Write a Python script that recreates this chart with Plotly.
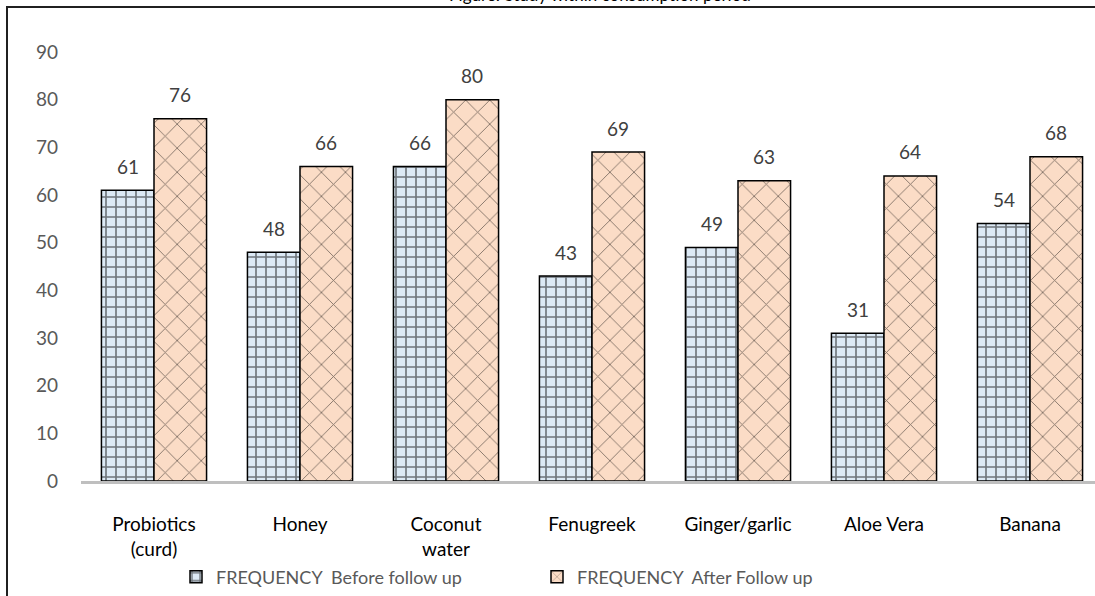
import plotly.graph_objects as go

categories = ["Probiotics<br>(curd)", "Honey", "Coconut<br>water", "Fenugreek", "Ginger/garlic", "Aloe Vera", "Banana"]
before = [61, 48, 66, 43, 49, 31, 54]
after = [76, 66, 80, 69, 63, 64, 68]
series_names = ["FREQUENCY  Before follow up", "FREQUENCY  After Follow up"]
title_text = "Figure: Study within consumption period"

FONT = "Lato, Carlito, Calibri, 'Open Sans', sans-serif"

W, H = 1095, 596
L, T, R, B = 81, 52, 0, 115
pw, ph = W - L - R, H - T - B
cat_px = 146.0


def px(x):
    return (x - L) / pw


def py(y):
    return (H - B - y) / ph


fig = go.Figure()
fig.add_trace(go.Bar(
    x=categories, y=before, name=series_names[0],
    marker=dict(color="#dce9f5", line=dict(color="black", width=1.5),
                pattern=dict(shape="+", fgcolor="black", bgcolor="#dce9f5", size=10, solidity=0.3, fillmode="overlay")),
))
fig.add_trace(go.Bar(
    x=categories, y=after, name=series_names[1],
    marker=dict(color="#fbdcc6", line=dict(color="black", width=1.5),
                pattern=dict(shape="x", fgcolor="black", bgcolor="#fbdcc6", size=17, solidity=0.1, fillmode="overlay")),
))

bargap = 0.28
half = (1 - bargap) * cat_px / 4
for vals, sh in ((before, -half), (after, half)):
    for c, v in zip(categories, vals):
        fig.add_annotation(x=c, y=v, text=str(v), showarrow=False, xshift=sh, yshift=24,
                           font=dict(size=19, color="#404040", family=FONT))

fig.add_shape(type="rect", xref="paper", yref="paper",
              x0=px(7), x1=px(1110), y0=py(610), y1=py(7),
              line=dict(color="#202020", width=2), fillcolor="rgba(0,0,0,0)", layer="below")

fig.add_annotation(text=title_text, xref="paper", yref="paper",
                   x=px(600), y=py(7), xanchor="center", yanchor="bottom", showarrow=False,
                   font=dict(size=17, color="black", family=FONT))

fig.update_layout(
    width=W, height=H,
    margin=dict(l=L, r=R, t=T, b=B, autoexpand=False),
    paper_bgcolor="white", plot_bgcolor="white",
    barmode="group", bargap=bargap, bargroupgap=0,
    font=dict(family=FONT, size=19, color="#404040"),
    showlegend=True,
    legend=dict(orientation="h", x=px(176), xanchor="left", y=py(577), yanchor="middle",
                font=dict(size=18, color="#595959", family=FONT), itemwidth=30,
                entrywidthmode="pixels", entrywidth=316),
    xaxis=dict(showgrid=False, showline=True, linecolor="#bfbfbf", linewidth=3,
               range=[-0.5, 6.5 + (pw - 7 * cat_px) / cat_px],
               tickfont=dict(size=19, color="black", family=FONT), ticks="", ticklabelstandoff=24),
    yaxis=dict(range=[0, 90], dtick=10, showgrid=False, zeroline=False, showline=False,
               tickfont=dict(size=19, color="#595959", family=FONT), ticks="", ticklabelstandoff=22),
)

fig.write_html("out.html", config={"displayModeBar": False},
               post_script="document.body.style.margin='0px';document.body.style.overflow='hidden';")
